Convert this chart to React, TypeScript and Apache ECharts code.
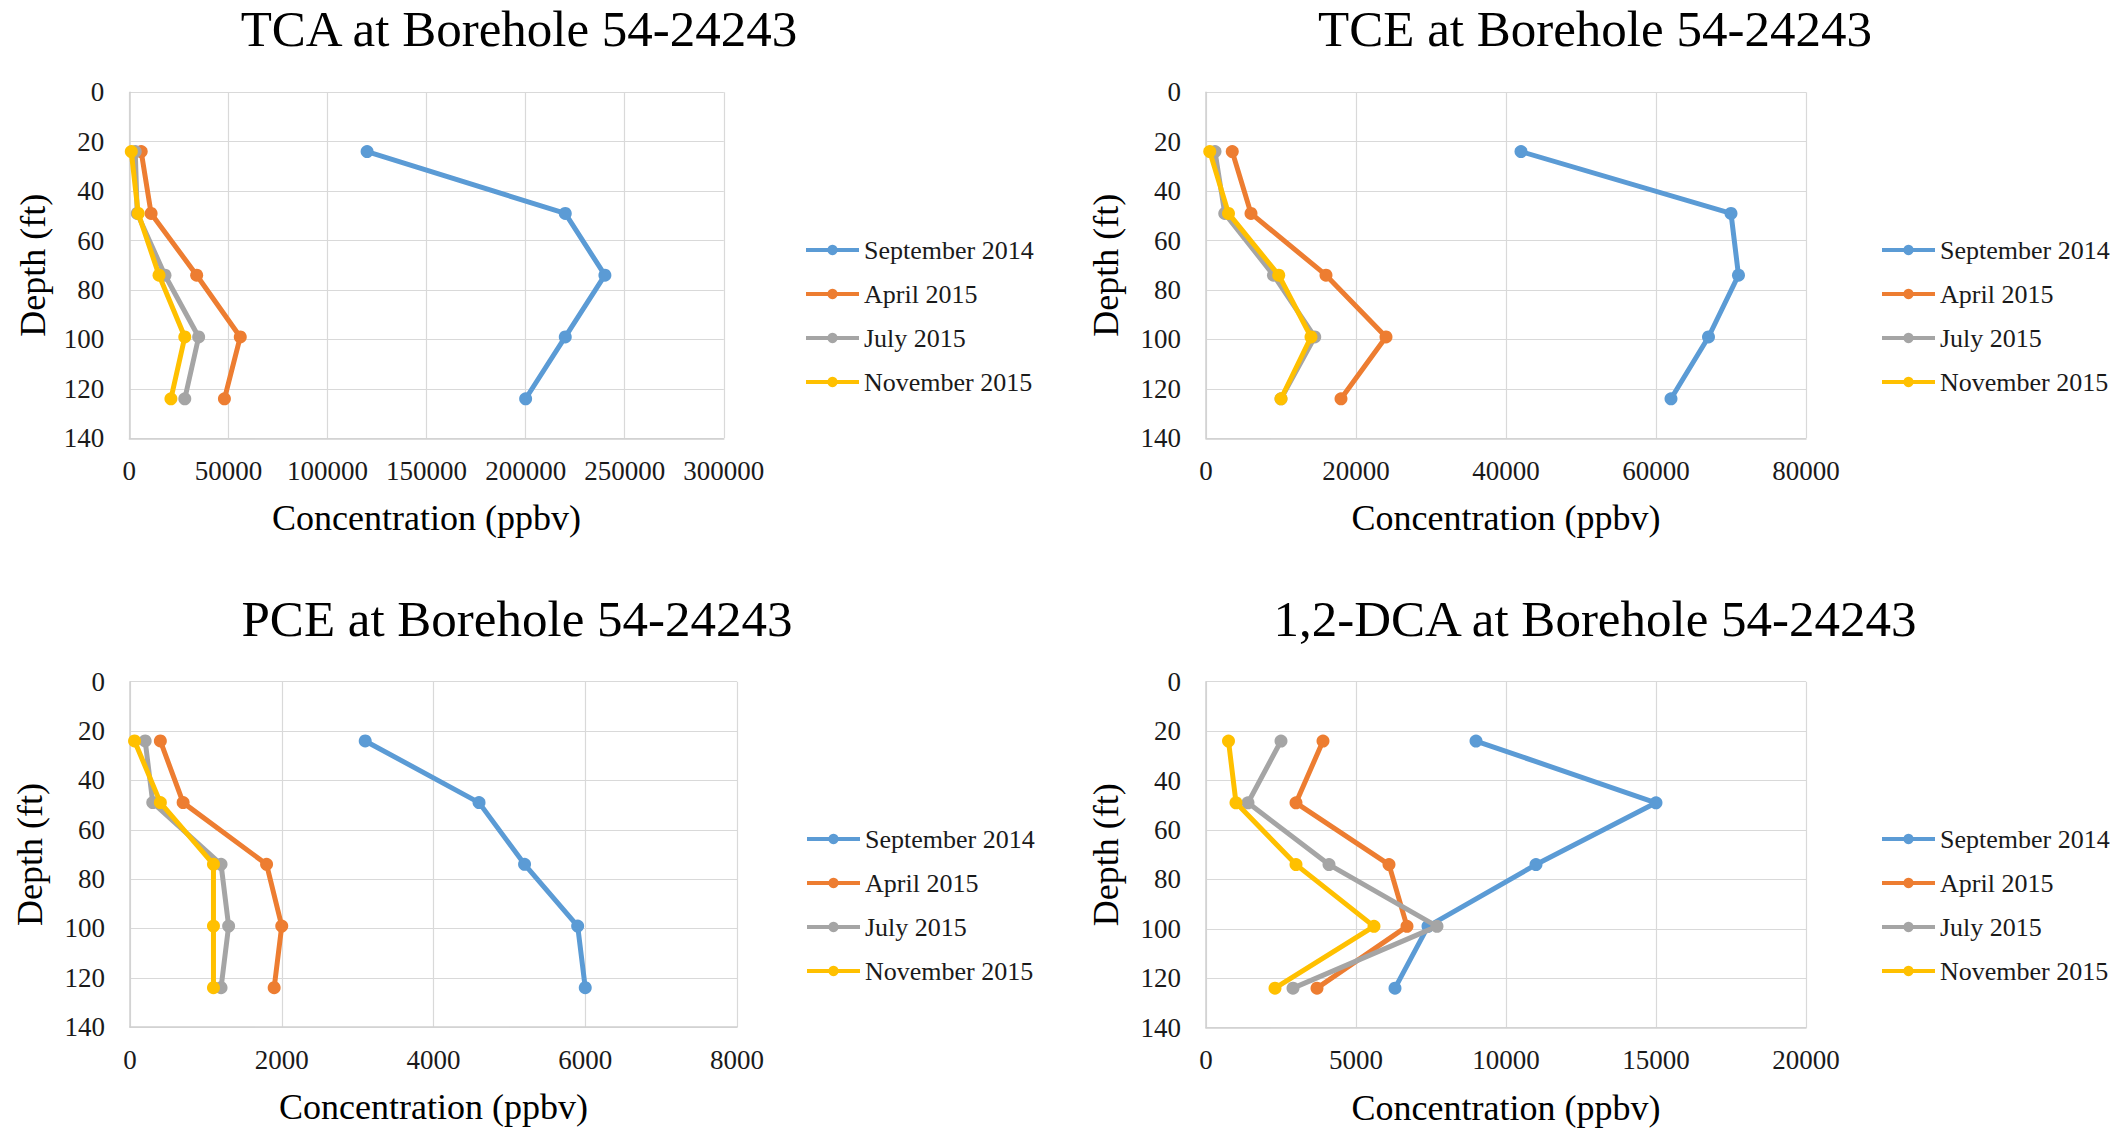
import React, { useEffect, useRef } from 'react';
import * as echarts from 'echarts';

// ---- data ----
const depths = [24, 49, 74, 99, 124];
const seriesNames = ['September 2014', 'April 2015', 'July 2015', 'November 2015'];
const seriesColors = ['#5B9BD5', '#ED7D31', '#A5A5A5', '#FFC000'];

const tcaSep2014 = [120000, 220000, 240000, 220000, 200000];
const tcaApr2015 = [6000, 11000, 34000, 56000, 48000];
const tcaJul2015 = [3000, 4000, 18000, 35000, 28000];
const tcaNov2015 = [1000, 4500, 15000, 28000, 21000];

const tceSep2014 = [42000, 70000, 71000, 67000, 62000];
const tceApr2015 = [3500, 6000, 16000, 24000, 18000];
const tceJul2015 = [1200, 2500, 9000, 14500, 10000];
const tceNov2015 = [500, 3000, 9700, 14000, 10000];

const pceSep2014 = [3100, 4600, 5200, 5900, 6000];
const pceApr2015 = [400, 700, 1800, 2000, 1900];
const pceJul2015 = [200, 300, 1200, 1300, 1200];
const pceNov2015 = [60, 400, 1100, 1100, 1100];

const dcaSep2014 = [9000, 15000, 11000, 7400, 6300];
const dcaApr2015 = [3900, 3000, 6100, 6700, 3700];
const dcaJul2015 = [2500, 1400, 4100, 7700, 2900];
const dcaNov2015 = [750, 1000, 3000, 5600, 2300];

const chartTitles = [
  'TCA at Borehole 54-24243',
  'TCE at Borehole 54-24243',
  'PCE at Borehole 54-24243',
  '1,2-DCA at Borehole 54-24243',
];
const xMaxes = [300000, 80000, 8000, 20000];
const xIntervals = [50000, 20000, 2000, 5000];
const depthMin = 0;
const depthMax = 140;
const depthInterval = 20;
const xAxisTitle = 'Concentration (ppbv)';
const yAxisTitle = 'Depth (ft)';

const panelData = [
  [tcaSep2014, tcaApr2015, tcaJul2015, tcaNov2015],
  [tceSep2014, tceApr2015, tceJul2015, tceNov2015],
  [pceSep2014, pceApr2015, pceJul2015, pceNov2015],
  [dcaSep2014, dcaApr2015, dcaJul2015, dcaNov2015],
];

// ---- layout ----
const FONT = 'Liberation Serif';
const layouts = [
  { left: 129.3, top: 92.3, width: 594.5, height: 346, titleX: 519, titleY: 29, legendX: 804, legendY: 237, yNameGap: 78 },
  { left: 1206, top: 92.3, width: 600, height: 346, titleX: 1595, titleY: 29, legendX: 1880, legendY: 237, yNameGap: 82 },
  { left: 130, top: 681.7, width: 607, height: 345.5, titleX: 517, titleY: 619, legendX: 805, legendY: 826, yNameGap: 82 },
  { left: 1206, top: 681.7, width: 600, height: 346, titleX: 1595, titleY: 619, legendX: 1880, legendY: 826, yNameGap: 82 },
];

function buildOption() {
  const grid: any[] = [];
  const xAxis: any[] = [];
  const yAxis: any[] = [];
  const series: any[] = [];
  const legend: any[] = [];
  const graphic: any[] = [];

  layouts.forEach((L, i) => {
    grid.push({ left: L.left, top: L.top, width: L.width, height: L.height, containLabel: false });
    xAxis.push({
      type: 'value',
      gridIndex: i,
      min: 0,
      max: xMaxes[i],
      interval: xIntervals[i],
      position: 'bottom',
      name: xAxisTitle,
      nameLocation: 'middle',
      nameGap: 62,
      nameTextStyle: { fontFamily: FONT, fontSize: 36, color: '#000' },
      axisLine: { show: true, onZero: false, lineStyle: { color: '#D0D0D0', width: 1.5 } },
      axisTick: { show: false },
      axisLabel: {
        margin: 19,
        fontFamily: FONT,
        fontSize: 27,
        color: '#1a1a1a',
        formatter: (v: number) => String(v),
      },
      splitLine: { show: true, lineStyle: { color: '#D9D9D9', width: 1.2 } },
    });
    yAxis.push({
      type: 'value',
      gridIndex: i,
      inverse: true,
      min: depthMin,
      max: depthMax,
      interval: depthInterval,
      name: yAxisTitle,
      nameLocation: 'middle',
      nameRotate: 90,
      nameGap: L.yNameGap,
      nameTextStyle: { fontFamily: FONT, fontSize: 36, color: '#000' },
      axisLine: { show: true, onZero: false, lineStyle: { color: '#D0D0D0', width: 1.5 } },
      axisTick: { show: false },
      axisLabel: { margin: 25, fontFamily: FONT, fontSize: 27, color: '#1a1a1a' },
      splitLine: { show: true, lineStyle: { color: '#D9D9D9', width: 1.2 } },
    });
    panelData[i].forEach((vals, s) => {
      series.push({
        type: 'line',
        name: seriesNames[s],
        xAxisIndex: i,
        yAxisIndex: i,
        data: vals.map((v, k) => [v, depths[k]]),
        symbol: 'circle',
        symbolSize: 13,
        showSymbol: true,
        color: seriesColors[s],
        itemStyle: { color: seriesColors[s] },
        lineStyle: { color: seriesColors[s], width: 5 },
        emphasis: { disabled: true },
        z: 2 + s,
      });
    });
    legend.push({
      data: seriesNames,
      orient: 'vertical',
      left: L.legendX,
      top: L.legendY,
      padding: 0,
      itemWidth: 53,
      itemHeight: 13,
      itemGap: 18,
      selectedMode: false,
      lineStyle: { width: 4 },
      textStyle: { fontFamily: FONT, fontSize: 26, color: '#1a1a1a' },
    });
    graphic.push({
      type: 'text',
      x: L.titleX,
      y: L.titleY,
      style: {
        text: chartTitles[i],
        fontFamily: FONT,
        fontSize: 51,
        fill: '#000',
        align: 'center',
        verticalAlign: 'middle',
      },
    });
  });

  return {
    animation: false,
    backgroundColor: '#ffffff',
    textStyle: { fontFamily: FONT },
    grid,
    xAxis,
    yAxis,
    series,
    legend,
    graphic,
  };
}

export default function App() {
  const ref = useRef<HTMLDivElement | null>(null);
  useEffect(() => {
    if (!ref.current) return;
    const chart = echarts.init(ref.current, undefined, { renderer: 'svg' });
    chart.setOption(buildOption() as any);
    return () => chart.dispose();
  }, []);
  return (
    <div
      ref={ref}
      style={{ position: 'fixed', left: 0, top: 0, width: '2112px', height: '1133px', background: '#fff' }}
    />
  );
}
